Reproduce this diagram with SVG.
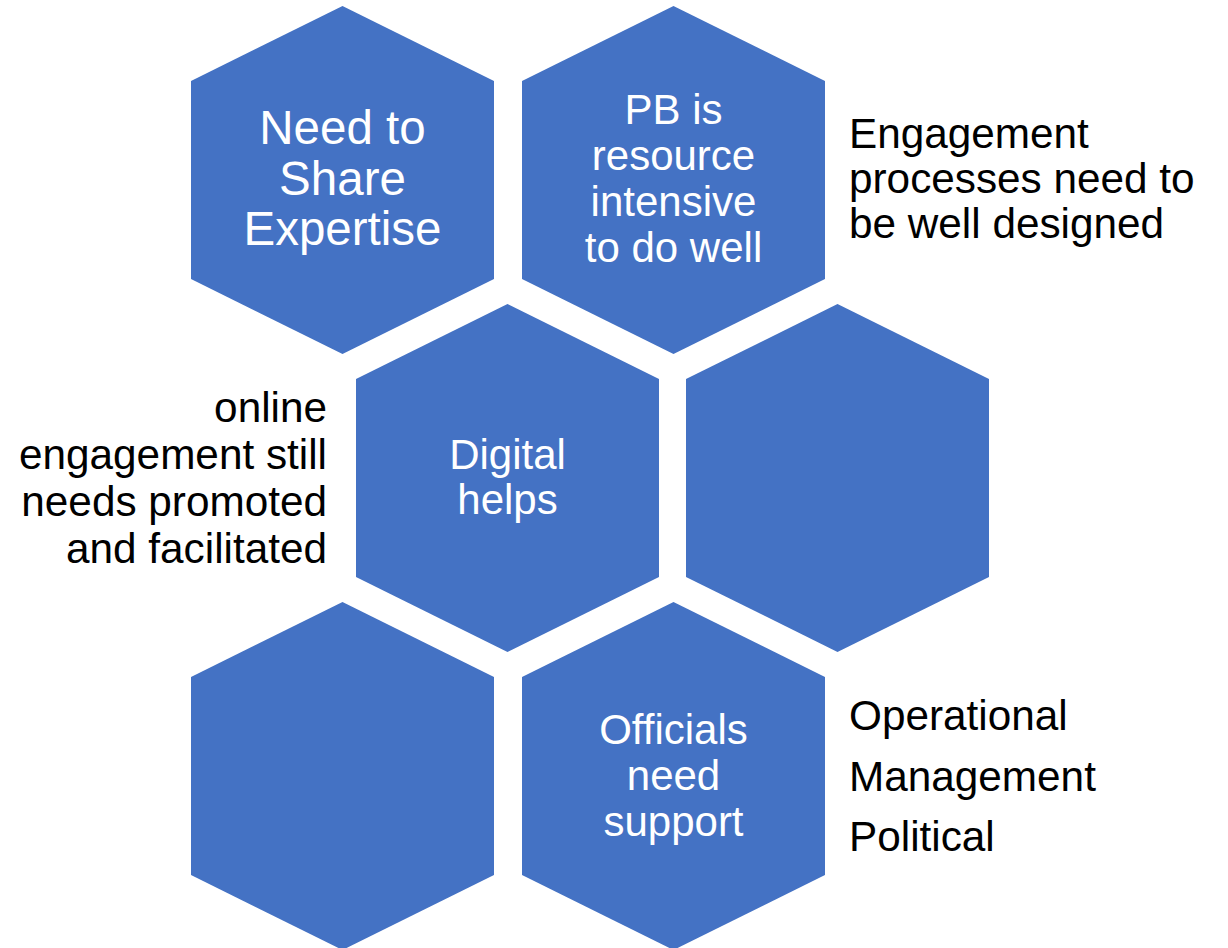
<svg xmlns="http://www.w3.org/2000/svg" width="1228" height="948" viewBox="0 0 1228 948">
<style>
.hex{fill:#4472C4}
.w{fill:#FFFFFF;font-family:"Liberation Sans",Arial,sans-serif;text-anchor:middle}
.b{fill:#000000;font-family:"Liberation Sans",Arial,sans-serif;font-size:42.3px}
</style>
<rect width="1228" height="948" fill="#FFFFFF"/>
<g id="connectors"></g>
<g id="hex-share">
<polygon class="hex" points="342.5,6 494,81 494,279 342.5,354 191,279 191,81"/>
<text class="w" font-size="47.5" x="342.5" y="144">Need to</text>
<text class="w" font-size="47.5" x="342.5" y="195">Share</text>
<text class="w" font-size="47.5" x="342.5" y="245">Expertise</text>
</g>
<g id="hex-pb">
<polygon class="hex" points="673.5,6 825,81 825,279 673.5,354 522,279 522,81"/>
<text class="w" font-size="42" x="673.5" y="124">PB is</text>
<text class="w" font-size="42" x="673.5" y="170">resource</text>
<text class="w" font-size="42" x="673.5" y="216">intensive</text>
<text class="w" font-size="42" x="673.5" y="262">to do well</text>
</g>
<g id="hex-digital">
<polygon class="hex" points="507.5,304 659,379 659,577 507.5,652 356,577 356,379"/>
<text class="w" font-size="42" x="507.5" y="469">Digital</text>
<text class="w" font-size="42" x="507.5" y="514">helps</text>
</g>
<g id="hex-empty-right">
<polygon class="hex" points="837.5,304 989,379 989,577 837.5,652 686,577 686,379"/>
</g>
<g id="hex-empty-bottom">
<polygon class="hex" points="342.5,602 494,677 494,875 342.5,950 191,875 191,677"/>
</g>
<g id="hex-officials">
<polygon class="hex" points="673.5,602 825,677 825,875 673.5,950 522,875 522,677"/>
<text class="w" font-size="42" x="673.5" y="744">Officials</text>
<text class="w" font-size="42" x="673.5" y="790">need</text>
<text class="w" font-size="42" x="673.5" y="836">support</text>
</g>
<g id="note-engagement">
<text class="b" x="849" y="148">Engagement</text>
<text class="b" x="849" y="193">processes need to</text>
<text class="b" x="849" y="238">be well designed</text>
</g>
<g id="note-online">
<text class="b" x="327" y="422" text-anchor="end">online</text>
<text class="b" x="327" y="469" text-anchor="end">engagement still</text>
<text class="b" x="327" y="516" text-anchor="end">needs promoted</text>
<text class="b" x="327" y="563" text-anchor="end">and facilitated</text>
</g>
<g id="note-levels">
<text class="b" x="849" y="730">Operational</text>
<text class="b" x="849" y="791">Management</text>
<text class="b" x="849" y="851">Political</text>
</g>
</svg>
